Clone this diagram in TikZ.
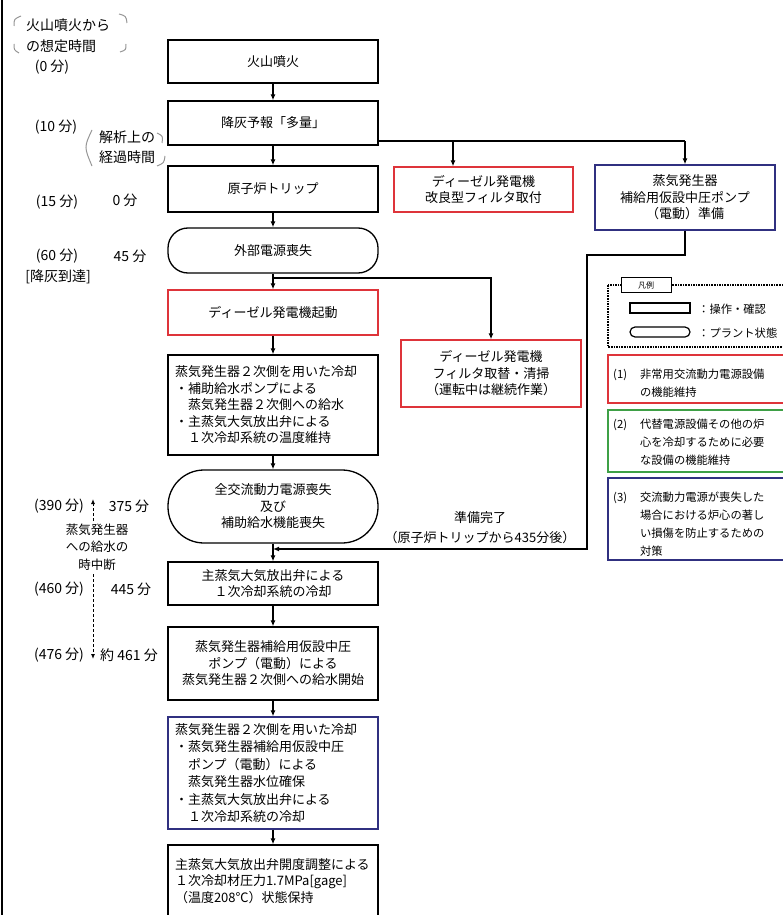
\documentclass[tikz,border=0pt]{standalone}
\usepackage{fontspec}
\setmainfont{Noto Sans CJK JP}
\usetikzlibrary{arrows.meta}
\definecolor{cred}{RGB}{222,52,58}
\definecolor{cblue}{RGB}{48,48,128}
\definecolor{cgreen}{RGB}{62,160,70}
\definecolor{cgray}{RGB}{150,150,150}
\newcommand{\mainfs}{\fontsize{13}{16.5}\selectfont}
\newcommand{\leftfs}{\fontsize{14}{18}\selectfont}
\newcommand{\legfs}{\fontsize{11.3}{18}\selectfont}
\begin{document}
\begin{tikzpicture}[x=1pt,y=-1pt,
  every node/.style={font=\mainfs, inner sep=0pt},
  box/.style={draw=black, line width=1.3pt, minimum width=210pt, align=center},
  rbox/.style={box, draw=cred},
  bbox/.style={box, draw=cblue},
  statebox/.style={box, rounded corners=#1},
  arr/.style={line width=1.2pt, -{Latex[length=6pt,width=5pt]}},
  ln/.style={line width=1.2pt},
  darr/.style={line width=0.9pt, densely dashed, -{Latex[length=5pt,width=4pt]}},
  brk/.style={cgray, line width=1pt},
  legbox/.style={draw, line width=1.5pt, minimum width=192pt},
  lbl/.style={font=\leftfs},
]
\useasboundingbox (0,0) rectangle (783,915);
\draw[line width=1.6pt] (2,0) -- (2,915);

% main column
\node[box, minimum height=43pt] (n1) at (273,61.5) {火山噴火};
\node[box, minimum height=44pt] (n2) at (273,123) {降灰予報「多量」};
\node[box, minimum height=46pt] (n3) at (273,189) {原子炉トリップ};
\node[statebox=20pt, minimum height=45pt] (n4) at (273,250.5) {外部電源喪失};
\node[rbox, minimum height=45pt] (n5) at (273,312.5) {ディーゼル発電機起動};
\node[box, minimum height=100pt, text width=196pt, align=left] (n6) at (273,405)
  {蒸気発生器２次側を用いた冷却\\・補助給水ポンプによる\\\hspace*{13pt}蒸気発生器２次側への給水\\・主蒸気大気放出弁による\\\hspace*{13pt}１次冷却系統の温度維持};
\node[statebox=36pt, minimum height=73pt] (n7) at (273,506.5) {全交流動力電源喪失\\及び\\補助給水機能喪失};
\node[box, minimum height=43pt] (n8) at (273,583.5) {主蒸気大気放出弁による\\１次冷却系統の冷却};
\node[box, minimum height=73pt] (n9) at (273,663.5) {蒸気発生器補給用仮設中圧\\ポンプ（電動）による\\蒸気発生器２次側への給水開始};
\node[bbox, minimum height=112pt, text width=196pt, align=left, font=\fontsize{13}{17.5}\selectfont] (n10) at (273,773)
  {蒸気発生器２次側を用いた冷却\\・蒸気発生器補給用仮設中圧\\\hspace*{13pt}ポンプ（電動）による\\\hspace*{13pt}蒸気発生器水位確保\\・主蒸気大気放出弁による\\\hspace*{13pt}１次冷却系統の冷却};
\node[box, minimum height=72pt, text width=196pt, align=left] (n11) at (273,881)
  {主蒸気大気放出弁開度調整による\\１次冷却材圧力1.7MPa[gage]\\（温度208℃）状態保持};

% right column
\node[rbox, minimum width=179pt, minimum height=45pt] (r1) at (483.5,189.5) {ディーゼル発電機\\改良型フィルタ取付};
\node[bbox, minimum width=180pt, minimum height=65pt] (b1) at (685,197.5) {蒸気発生器\\補給用仮設中圧ポンプ\\（電動）準備};
\node[rbox, minimum width=180pt, minimum height=67pt] (r2) at (491,373.5) {ディーゼル発電機\\フィルタ取替・清掃\\（運転中は継続作業）};

% connectors
\draw[arr] (n1) -- (n2);
\draw[arr] (n2) -- (n3);
\draw[arr] (n3) -- (n4);
\draw[arr] (n4) -- (n5);
\draw[arr] (n5) -- (n6);
\draw[arr] (n6) -- (n7);
\draw[arr] (n7) -- (n8);
\draw[arr] (n8) -- (n9);
\draw[arr] (n9) -- (n10);
\draw[arr] (n10) -- (n11);
\coordinate (j1) at (453,141);
\coordinate (j2) at (685,141);
\draw[ln] (n2.east |- j1) -- (j2);
\draw[arr] (j1) -- (j1 |- r1.north);
\draw[arr] (j2) -- (b1.north);
\coordinate (b45) at (273,278);
\draw[arr] (b45) -| (r2.north);
\coordinate (k1) at (587,255);
\coordinate (k2) at (587,549);
\coordinate (m78) at (273,549);
\draw[arr] (b1.south) |- (k1) -- (k2) -- (m78);

% left labels
\node[anchor=west, align=left, font=\fontsize{14}{21}\selectfont] (tl) at (26,36) {火山噴火から\\の想定時間};
\node[lbl] (t0) at (52,67) {(0 分)};
\node[lbl] (t10) at (56,127) {(10 分)};
\node[align=left, font=\fontsize{14}{20}\selectfont] (ana) at (127,147) {解析上の\\経過時間};
\node[lbl] (t15) at (57,202) {(15 分)};
\node[lbl] (a0) at (125,200) {0 分};
\node[lbl] (t60) at (57,256) {(60 分)};
\node[lbl] (a45) at (130,256) {45 分};
\node[lbl] (ash) at (58,277) {[降灰到達]};
\node[lbl] (t390) at (59,506) {(390 分)};
\node[lbl] (a375) at (129,506) {375 分};
\node[align=center, font=\fontsize{12.5}{17.5}\selectfont] (sg) at (97,547) {蒸気発生器\\への給水の\\時中断};
\node[lbl] (t460) at (59,589) {(460 分)};
\node[lbl] (a445) at (131,589) {445 分};
\node[lbl] (t476) at (59,655) {(476 分)};
\node[lbl] (a461) at (129,655) {約 461 分};
\coordinate (u1) at (93,521);
\coordinate (u2) at (93,499);
\draw[darr] (u1) -- (u2);
\coordinate (d1) at (93,574);
\coordinate (d2) at (93,659);
\draw[darr] (d1) -- (d2);

% brackets
\draw[brk] (14,26) .. controls (14,19) .. (21,16);
\draw[brk] (119,14) .. controls (126,16) .. (127,23);
\draw[brk] (14,44) .. controls (14,50) .. (19,53);
\draw[brk] (126,44) .. controls (126,50) .. (120,52);
\draw[brk] (92,130) .. controls (84,147) .. (92,166);
\draw[brk] (157,133) .. controls (163,136) .. (162,143);
\draw[brk] (165,156) .. controls (164,163) .. (157,166);

% ready label
\node[align=center, font=\fontsize{13}{20}\selectfont] (rdy) at (480,528) {準備完了\\（原子炉トリップから435分後）};

% legend
\draw[densely dotted, line width=1.6pt] (608,285) rectangle (800,347);
\node[draw, fill=white, line width=1pt, minimum width=50pt, minimum height=15pt, font=\fontsize{8}{8}\selectfont] (lg) at (646,285) {凡例};
\node[draw, line width=1.2pt, minimum width=60pt, minimum height=10pt] (ls1) at (660,308) {};
\node[draw, line width=1.2pt, minimum width=60pt, minimum height=10pt, rounded corners=5pt] (ls2) at (660,332) {};
\node[anchor=west, font=\legfs] (lt1) at (698,309) {：操作・確認};
\node[anchor=west, font=\legfs] (lt2) at (698,333) {：プラント状態};

\node[legbox, draw=cred, minimum height=48pt] (lr) at (704,379) {};
\node[legbox, draw=cgreen, minimum height=62pt] (lgn) at (704,441) {};
\node[legbox, draw=cblue, minimum height=82pt] (lb) at (704,519) {};
\node[anchor=west, font=\legfs, align=left] (lrt) at (613,384)
  {\begin{tabular}{@{}l@{\hspace{13pt}}l@{}}(1)&非常用交流動力電源設備\\&の機能維持\end{tabular}};
\node[anchor=west, font=\legfs, align=left] (lgt) at (613,443)
  {\begin{tabular}{@{}l@{\hspace{13pt}}l@{}}(2)&代替電源設備その他の炉\\&心を冷却するために必要\\&な設備の機能維持\end{tabular}};
\node[anchor=west, font=\legfs, align=left] (lbt) at (613,525)
  {\begin{tabular}{@{}l@{\hspace{13pt}}l@{}}(3)&交流動力電源が喪失した\\&場合における炉心の著し\\&い損傷を防止するための\\&対策\end{tabular}};
\end{tikzpicture}
\end{document}
